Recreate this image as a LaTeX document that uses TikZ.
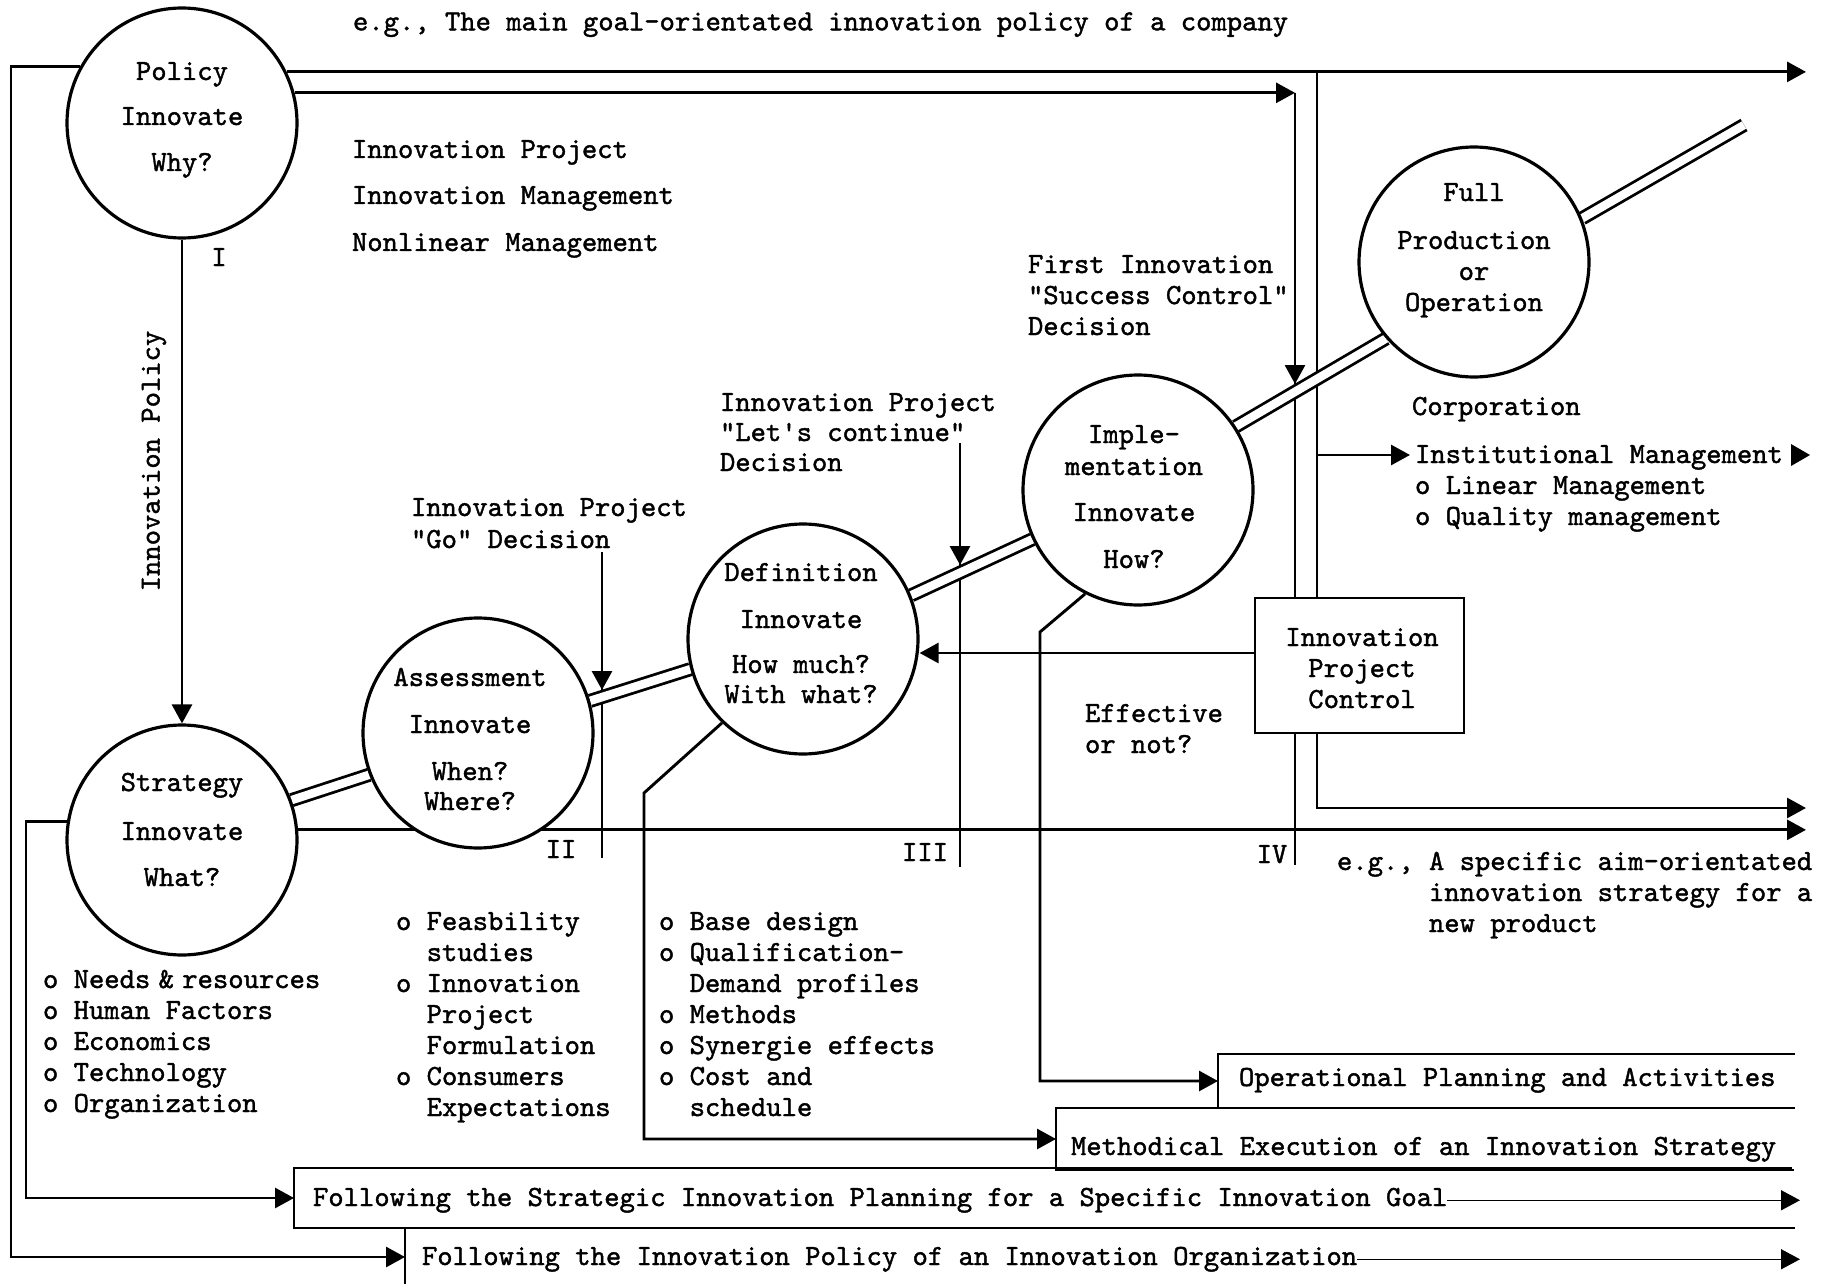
\documentclass[tikz,border=0pt]{standalone}
\usepackage{fontspec}
\setmonofont[FakeBold=1.4]{lmmono10-regular.otf}
\usetikzlibrary{arrows.meta}
\pgfdeclarelayer{bg}
\pgfsetlayers{bg,main}
\tikzset{
  ln/.style={line width=2.9pt, line join=miter},
  fine/.style={line width=1.5pt},
  tip/.style={-{Triangle[length=19pt,width=20pt]}},
  txt/.style={font=\ttfamily\fontsize{29.2}{31}\selectfont, inner sep=0pt, outer sep=0pt},
  stage/.style={circle, draw, line width=3.2pt, fill=white, minimum size=230pt, inner sep=0pt},
  pipe/.style={double, double distance=8.5pt, line width=2.8pt},
  slot/.style={rectangle, inner sep=0pt, outer sep=0pt},
}
\begin{document}
\begin{tikzpicture}[x=1pt,y=-1pt]
\useasboundingbox (0,0) rectangle (1829,1284);

% ---- phase circles ----
\node[stage] (pol)    at (182,123)  {};
\node[stage] (strat)  at (182,840)  {};
\node[stage] (assess) at (478,733)  {};
\node[stage] (def)    at (803,639)  {};
\node[stage] (impl)   at (1138,490) {};
\node[stage] (full)   at (1474,262) {};

\node[txt, anchor=north, align=center] (polt) at (182,58.3)
  {\strut Policy\\[14pt]Innovate\\[15pt]Why?};
\node[txt, anchor=north, align=center] (stratt) at (182,769.3)
  {\strut Strategy\\[18pt]Innovate\\[15pt]What?};
\node[txt, anchor=north, align=center] (assesst) at (470,664.3)
  {\strut Assessment\\[16pt]Innovate\\[16pt]When?\\[-1pt]Where?};
\node[txt, anchor=north, align=center] (deft) at (801,559.3)
  {\strut Definition\\[16pt]Innovate\\[14pt]How much?\\[-1pt]With what?};
\node[txt, anchor=north, align=center] (implt) at (1134,421.3)
  {\strut Imple-\\[1pt]mentation\\[15pt]Innovate\\[16pt]How?};
\node[txt, anchor=north, align=center] (fullt) at (1474,179.3)
  {\strut Full\\[17pt]Production\\or\\Operation};

% ---- control box ----
\node[draw, ln, fill=white, minimum width=209pt, minimum height=135pt, inner sep=0pt]
  (ctrl) at (1359.5,665.5) {};
\node[txt, anchor=north, align=center] (ctrlt) at (1362,624.3)
  {\strut Innovation\\Project\\Control};

% ---- open result bars ----
\node[slot, minimum width=577pt,  minimum height=54pt] (opbox)    at (1506.5,1081) {};
\node[slot, minimum width=738pt,  minimum height=62pt] (methbox)  at (1425,1139)   {};
\node[slot, minimum width=1498pt, minimum height=60pt] (stratbox) at (1043,1198)   {};
\node[slot, minimum width=1390pt, minimum height=58pt] (polbox)   at (1100,1257)   {};
\draw[ln] (opbox.north east) -- (opbox.north west) -- (opbox.south west) -- (opbox.south east);
\draw[ln] (methbox.north east) -- (methbox.north west) -- (methbox.south west) -- (methbox.south east);
\draw[ln] (stratbox.north east) -- (stratbox.north west) -- (stratbox.south west) -- (stratbox.south east);
\draw[ln] (polbox.north east) -- (polbox.north west) -- (polbox.south west);

\node[txt, anchor=base west] (opt)   at (1239,1086) {Operational Planning and Activities};
\node[txt, anchor=base west] (metht) at (1071,1155) {Methodical Execution of an Innovation Strategy};
\node[txt, anchor=base west] (stt)   at (313,1206)  {Following the Strategic Innovation Planning for a Specific Innovation Goal};
\node[txt, anchor=base west] (polbt) at (422,1265)  {Following the Innovation Policy of an Innovation Organization};

% ---- free texts ----
\node[txt, anchor=north west] (eg1) at (353,12.3)
  {e.g., The main goal-orientated innovation policy of a company};
\node[txt, anchor=north west, align=left] (kinds) at (352,136.3)
  {\strut Innovation Project\\[15pt]Innovation Management\\[16pt]Nonlinear Management};
\node[txt, anchor=north west, align=left] (fid) at (1028,251.3)
  {\strut First Innovation\\"Success Control"\\Decision};
\node[txt, anchor=north west, align=left] (lcd) at (720,389.3)
  {\strut Innovation Project\\[-1pt]"Let's continue"\\[-1pt]Decision};
\node[txt, anchor=north west, align=left] (god) at (411,494.3)
  {\strut Innovation Project\\[1pt]"Go" Decision};
\node[txt, anchor=base west] (corp) at (1412,415) {Corporation};
\node[txt, anchor=north west, align=left] (inst) at (1415,441.3)
  {\strut Institutional Management\\o Linear Management\\o Quality management};
\node[txt, anchor=north west, align=left] (eff) at (1085,700.3)
  {\strut Effective\\or not?};
\node[txt, anchor=north west, align=left] (eg2) at (1337,848.3)
  {\strut e.g., A specific aim-orientated\\\phantom{e.g.,x}innovation strategy for a\\\phantom{e.g.,x}new product};

\node[txt, anchor=north west, align=left] (slist) at (43,966.3)
  {\strut o Needs\hspace{-7pt} \&\hspace{-7pt} resources\\o Human Factors\\o Economics\\o Technology\\o Organization};
\node[txt, anchor=north west, align=left] (alist) at (396,908.3)
  {\strut o Feasbility\\\phantom{oo}studies\\o Innovation\\\phantom{oo}Project\\\phantom{oo}Formulation\\o Consumers\\\phantom{oo}Expectations};
\node[txt, anchor=north west, align=left] (dlist) at (659,908.3)
  {\strut o Base design\\o Qualification-\\\phantom{oo}Demand profiles\\o Methods\\o Synergie effects\\o Cost and\\\phantom{oo}schedule};

\node[txt, anchor=base] (l1) at (219,266)  {I};
\node[txt, anchor=base] (l2) at (561,858)  {II};
\node[txt, anchor=base] (l3) at (925,861)  {III};
\node[txt, anchor=base] (l4) at (1272,863) {IV};
\node[txt, rotate=90] (ipol) at (154,461) {Innovation Policy};

\fill (1791,444) -- (1810,455) -- (1791,466) -- cycle;

% ---- free ends and bends ----
\coordinate (lf)     at (11,67);
\coordinate (etop)   at (1806,72);
\coordinate (sc)     at (1295,93);
\coordinate (sctip)  at (1295,384);
\coordinate (rv)     at (1317,72);
\coordinate (ib)     at (1317,455);
\coordinate (ibe)    at (1410,455);
\coordinate (rlow)   at (1806,808);
\coordinate (eright) at (1806,830);
\coordinate (sl)     at (26,822);
\coordinate (dm)     at (644,793);
\coordinate (io)     at (1040,632);
\coordinate (cw)     at (1255,653);
\coordinate (go1)    at (602,552);
\coordinate (go2)    at (602,690);
\coordinate (go3)    at (602,858);
\coordinate (lc1)    at (960,443);
\coordinate (lc2)    at (960,565);
\coordinate (lc3)    at (960,867);
\coordinate (iv)     at (1295,865);
\coordinate (pend)   at (1744,125);
\coordinate (rEnd)   at (1800,0);

\begin{pgfonlayer}{bg}
  % policy to strategy
  \draw[ln,tip] (pol.south) -- (strat.north);
  % policy feedback to the bottom bar
  \draw[ln,tip] (pol.151) -- (pol.151 -| lf) -- (lf |- polbox.west) -- (polbox.west);
  % policy lines to the right
  \draw[ln,tip] (pol.26) -- (pol.26 -| etop);
  \draw[ln,tip] (pol.15) -- (pol.15 -| sc);
  \draw[ln] (pol.15 -| sc) -- (sc |- ctrl.north);
  \draw[ln,tip] (pol.15 -| sc) -- (sctip);
  \draw[ln] (ctrl.south -| sc) -- (iv);
  \draw[ln] (pol.26 -| rv) -- (rv |- ctrl.north);
  \draw[ln,tip] (ib) -- (ibe);
  \draw[ln,tip] (ctrl.south -| rv) -- (rv |- rlow) -- (rlow);
  \draw[ln,tip] (cw) -- (cw -| def.east);
  % strategy lines
  \draw[ln,tip] (strat.5) -- (strat.5 -| eright);
  \draw[ln,tip] (strat.171) -- (strat.171 -| sl) -- (sl |- stratbox.west) -- (stratbox.west);
  % definition and implementation to the bars
  \draw[ln,tip] (def.226) -- (dm) -- (dm |- methbox.west) -- (methbox.west);
  \draw[ln,tip] (impl.243) -- (io) -- (io |- opbox.west) -- (opbox.west);
  % decision points
  \draw[ln] (go1) -- (go3);
  \draw[ln,tip] (go1) -- (go2);
  \draw[ln] (lc1) -- (lc3);
  \draw[ln,tip] (lc1) -- (lc2);
  % bar continuations
  \draw[fine,tip] (stt.east) -- (stt.east -| rEnd);
  \draw[fine,tip] (polbt.east) -- (polbt.east -| rEnd);
  % the phase pipeline
  \draw[pipe] (strat.20) -- (assess.201);
  \draw[pipe] (assess.16) -- (def.195);
  \draw[pipe] (def.22) -- (impl.205);
  \draw[pipe] (impl.33) -- (full.221);
  \draw[pipe] (full.22) -- (pend);
\end{pgfonlayer}
\end{tikzpicture}
\end{document}
